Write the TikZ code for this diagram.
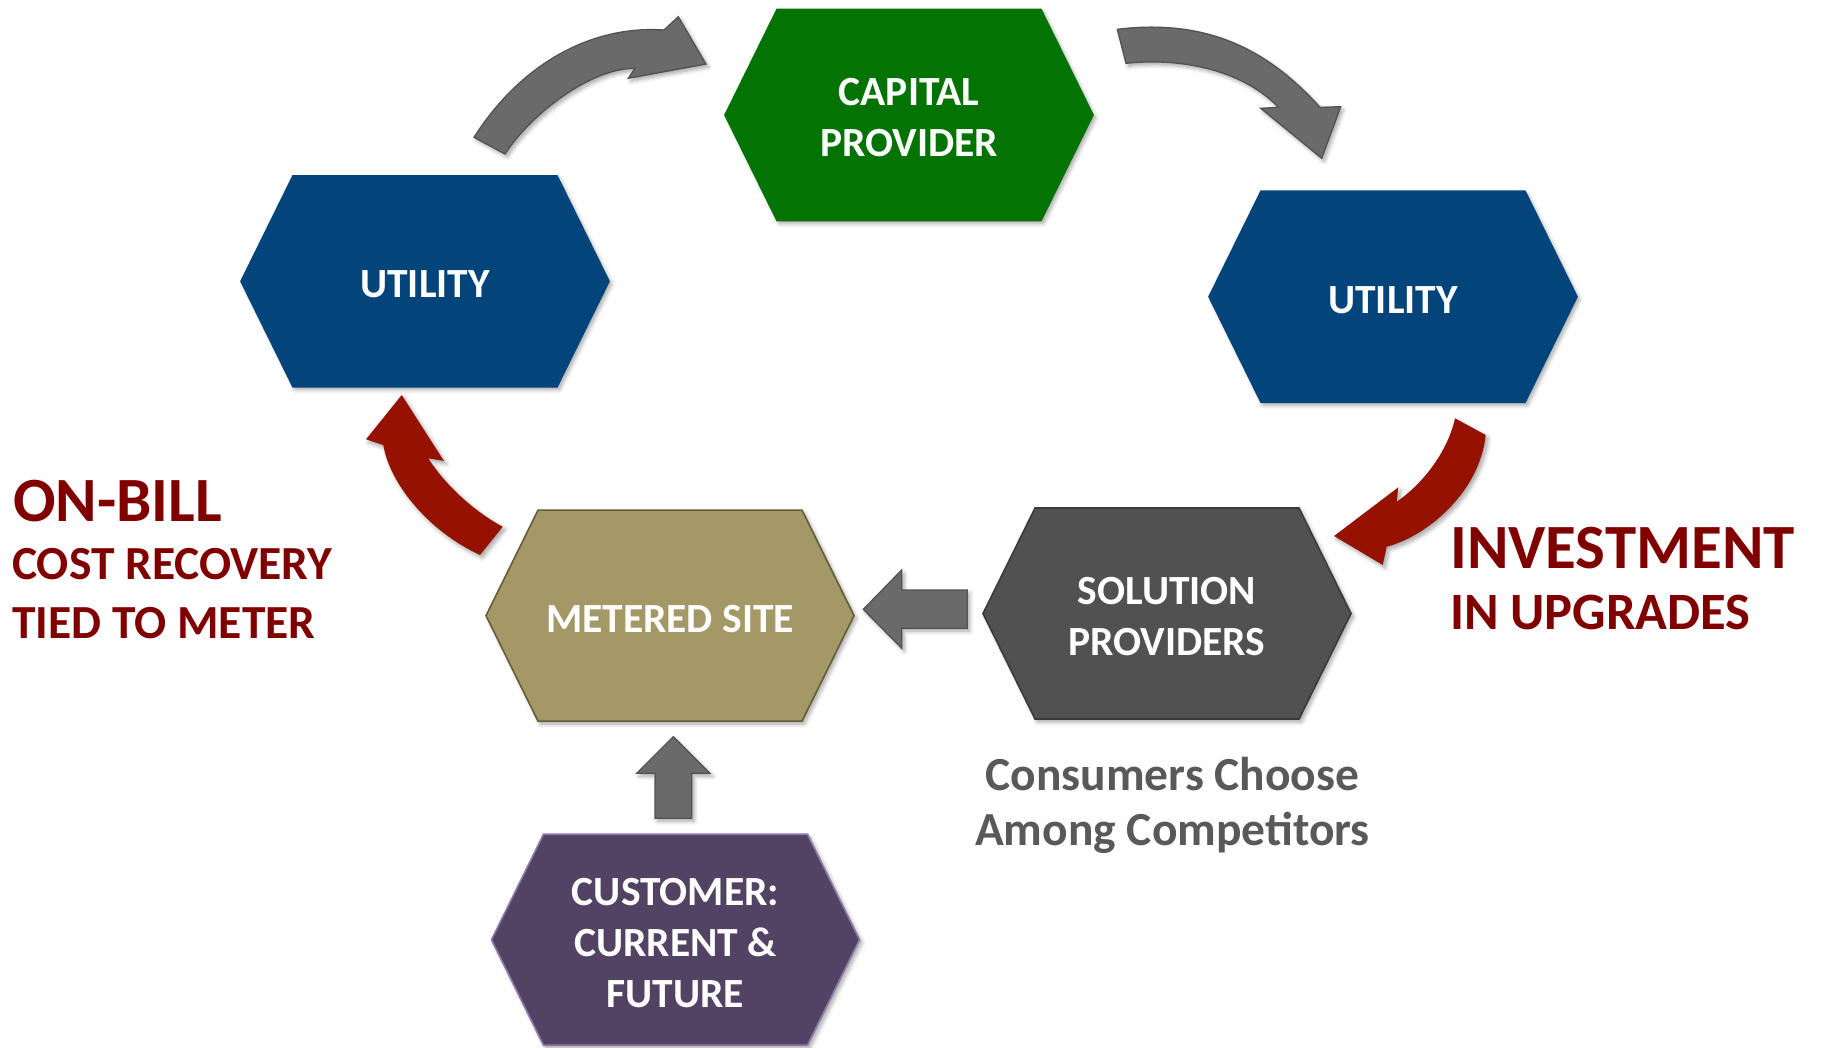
\documentclass[tikz,border=0pt]{standalone}
\usepackage{fontspec}
\setmainfont{Carlito}
\usetikzlibrary{shadows.blur}
\definecolor{hexblue}{RGB}{3,69,122}
\definecolor{hexgreen}{RGB}{3,116,3}
\definecolor{hextan}{RGB}{165,152,103}
\definecolor{hextanline}{RGB}{100,92,60}
\definecolor{hexgray}{RGB}{81,81,81}
\definecolor{hexgrayline}{RGB}{58,58,58}
\definecolor{hexpurple}{RGB}{82,67,100}
\definecolor{hexpurpleline}{RGB}{140,120,170}
\definecolor{arrgray}{RGB}{106,106,106}
\definecolor{arrgrayline}{RGB}{82,82,82}
\definecolor{arrred}{RGB}{150,18,0}
\definecolor{txtred}{RGB}{128,0,0}
\definecolor{txtgray}{RGB}{89,89,89}
\tikzset{
  softshadow/.style={blur shadow={shadow xshift=2.5pt, shadow yshift=-3pt, shadow blur steps=6, shadow blur radius=4pt, shadow opacity=35}},
  hexshape/.style={softshadow, line width=1.6pt, line join=miter},
  hexlabel/.style={text=white, font=\fontsize{41.5}{51}\selectfont\bfseries, align=center, inner sep=0pt, minimum width=368pt, minimum height=211pt},
  grayarrow/.style={softshadow, fill=arrgray, draw=arrgrayline, line width=1.3pt, line join=miter},
  redarrow/.style={softshadow, fill=arrred},
  sidelabel/.style={text=txtred, font=\bfseries, inner sep=0pt, anchor=base west},
  notelabel/.style={text=txtgray, font=\fontsize{47.5}{56}\selectfont\bfseries, inner sep=0pt, anchor=base}
}
\newcommand{\hexat}[6]{%
  \path[hexshape, fill=#4, draw=#5] (#2-184,#3) -- (#2-132,#3-105.5) -- (#2+132,#3-105.5) -- (#2+184,#3) -- (#2+132,#3+105.5) -- (#2-132,#3+105.5) -- cycle;
  \node[hexlabel] (#1) at (#2,#3+3) {#6};
}
\begin{document}
\begin{tikzpicture}[x=1pt,y=-1pt]
\useasboundingbox (0,0) rectangle (1822,1047);
% hexagons
\hexat{cap}{909}{115}{hexgreen}{hexgreen}{CAPITAL\\PROVIDER}
\hexat{utilL}{425}{281.3}{hexblue}{hexblue}{UTILITY}
\hexat{utilR}{1393}{296.7}{hexblue}{hexblue}{UTILITY}
\hexat{meter}{670}{615.6}{hextan}{hextanline}{METERED SITE}
\hexat{sol}{1167}{613.5}{hexgray}{hexgrayline}{SOLUTION\\PROVIDERS}
\hexat{cust}{675.5}{939.7}{hexpurple}{hexpurpleline}{CUSTOMER:\\CURRENT \&\\FUTURE}
% curved gray arrow: utility -> capital provider
\path[grayarrow] (474,137.3) .. controls (520,65) and (590,25) .. (664,30)
  -- (678.3,16.7) -- (706,64) -- (628.3,78.3) -- (635,68.3)
  .. controls (590,68) and (530,115) .. (505,154) -- cycle;
% curved gray arrow: capital provider -> utility
\path[grayarrow] (1117.3,29.3) .. controls (1210,18) and (1270,52) .. (1320,107.3)
  -- (1340.7,106.7) -- (1321.7,158.3) -- (1260.7,108.3) -- (1278.3,107.3)
  .. controls (1245,72) and (1185,57) .. (1126,63.3) -- cycle;
% red arrow: utility -> solution providers
\path[redarrow] (1455,418.3) -- (1485.7,435)
  .. controls (1480,490) and (1430,535) .. (1386.7,546.7)
  -- (1382.7,565) -- (1334,536) -- (1398.3,487.3) -- (1396.7,501.7)
  .. controls (1425,482) and (1448,450) .. (1455,418.3) -- cycle;
% red arrow: metered site -> utility
\path[redarrow] (401.7,395) -- (444,461) -- (428.3,458.3)
  .. controls (445,485) and (475,512) .. (502.7,526.7)
  -- (480,555)
  .. controls (430,532) and (390,485) .. (383.3,445)
  -- (366,439.3) -- cycle;
% straight gray arrow: solution providers -> metered site
\path[grayarrow] (863.3,609.3) -- (901.7,570) -- (901.7,590) -- (967.3,590) -- (967.3,628.3) -- (901.7,628.3) -- (901.7,648.3) -- cycle;
% up arrow: customer -> metered site
\path[grayarrow] (673.3,736.7) -- (710,773.3) -- (691.7,773.3) -- (691.7,818.3) -- (655,818.3) -- (655,773.3) -- (636.7,773.3) -- cycle;
% side labels
\node[sidelabel, font=\fontsize{63}{70}\selectfont\bfseries] (onbill) at (13,521.7) {ON-BILL};
\node[sidelabel, font=\fontsize{47.5}{56}\selectfont\bfseries] (costrec) at (12,579.2) {COST RECOVERY};
\node[sidelabel, font=\fontsize{47.5}{56}\selectfont\bfseries] (tied) at (12,638.4) {TIED TO METER};
\node[sidelabel, font=\fontsize{63}{70}\selectfont\bfseries] (invest) at (1450,568) {INVESTMENT};
\node[sidelabel, font=\fontsize{52.5}{60}\selectfont\bfseries] (upgr) at (1450,629.4) {IN UPGRADES};
\node[notelabel] (cons1) at (1172.5,790) {Consumers Choose};
\node[notelabel] (cons2) at (1172.5,845) {Among Competitors};
\end{tikzpicture}
\end{document}
